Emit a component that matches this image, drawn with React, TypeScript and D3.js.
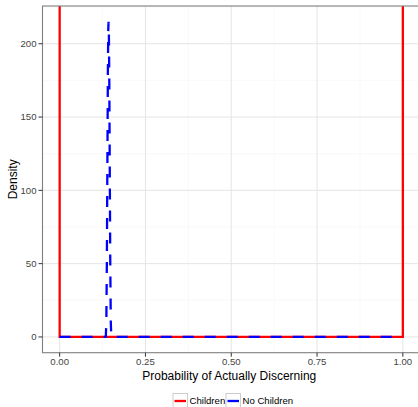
import React from 'react';
import * as d3 from 'd3';

// density curves
const groups = ['Children', 'No Children'];
const groupColors = ['#ff0000', '#0000ff'];

const childrenX = [0, 0, 1, 1];
const childrenY = [5000, 0, 0, 5000];

const noChildrenX = [0, 0.1345, 0.136, 0.1375, 0.139, 0.1405, 0.1417, 0.1425, 0.1433, 0.1445, 0.146, 0.1475, 0.149, 0.1505, 1];
const noChildrenY = [0, 0, 10, 50, 115, 180, 210, 215, 210, 180, 115, 50, 10, 0, 0];

const xTicks = [0, 0.25, 0.5, 0.75, 1];
const xMinor = [0.125, 0.375, 0.625, 0.875];
const yTicks = [0, 50, 100, 150, 200];
const yMinor = [25, 75, 125, 175, 225];

const W = 418;
const H = 407;
const panel = { left: 42.5, top: 6, right: 420, bottom: 352.7 };

const App = () => {
  const x = d3.scaleLinear([-0.05, 1.05], [panel.left, panel.right]);
  const y = d3.scaleLinear([-10.75, 225.75], [panel.bottom, panel.top]);
  const line = d3.line<[number, number]>((d) => x(d[0]), (d) => y(d[1]));

  const childrenPts = childrenX.map((v, i) => [v, childrenY[i]] as [number, number]);
  const noChildrenPts = noChildrenX.map((v, i) => [v, noChildrenY[i]] as [number, number]);

  const font = 'Liberation Sans, Arial, Helvetica, sans-serif';
  const legendY = 401;
  const legendItems = [
    { label: groups[0], x: 173, color: groupColors[0] },
    { label: groups[1], x: 226, color: groupColors[1] },
  ];

  return (
    <svg width={W} height={H} style={{ position: 'absolute', left: 0, top: 0, background: '#fff' }} fontFamily={font}>
      <defs>
        <clipPath id="panel-clip">
          <rect x={panel.left} y={panel.top} width={panel.right - panel.left} height={panel.bottom - panel.top} />
        </clipPath>
      </defs>
      <rect x={panel.left} y={panel.top} width={panel.right - panel.left} height={panel.bottom - panel.top} fill="#fff" />
      {/* grid */}
      <g strokeWidth={0.6}>
        {xMinor.map((t) => (
          <line key={'xm' + t} x1={x(t)} x2={x(t)} y1={panel.top} y2={panel.bottom} stroke="#f5f5f5" />
        ))}
        {yMinor.map((t) => (
          <line key={'ym' + t} y1={y(t)} y2={y(t)} x1={panel.left} x2={panel.right} stroke="#f5f5f5" />
        ))}
        {xTicks.map((t) => (
          <line key={'x' + t} x1={x(t)} x2={x(t)} y1={panel.top} y2={panel.bottom} stroke="#e5e5e5" strokeWidth={1} />
        ))}
        {yTicks.map((t) => (
          <line key={'y' + t} y1={y(t)} y2={y(t)} x1={panel.left} x2={panel.right} stroke="#e5e5e5" strokeWidth={1} />
        ))}
      </g>
      {/* density lines */}
      <g clipPath="url(#panel-clip)" fill="none" strokeWidth={2.3}>
        <path d={line(childrenPts) || ''} stroke={groupColors[0]} />
        <path d={line(noChildrenPts) || ''} stroke={groupColors[1]} strokeDasharray="11,11" />
      </g>
      {/* panel border */}
      <rect x={panel.left} y={panel.top} width={panel.right - panel.left} height={panel.bottom - panel.top} fill="none" stroke="#7f7f7f" strokeWidth={1.1} />
      {/* y axis */}
      {yTicks.map((t) => (
        <g key={'yl' + t}>
          <line x1={panel.left - 4} x2={panel.left} y1={y(t)} y2={y(t)} stroke="#333" strokeWidth={1} />
          <text x={panel.left - 6} y={y(t)} dy="0.35em" textAnchor="end" fontSize={9.6} fill="#444">{t}</text>
        </g>
      ))}
      {/* x axis */}
      {xTicks.map((t) => (
        <g key={'xl' + t}>
          <line x1={x(t)} x2={x(t)} y1={panel.bottom} y2={panel.bottom + 4} stroke="#333" strokeWidth={1} />
          <text x={x(t)} y={panel.bottom + 12.5} textAnchor="middle" fontSize={9.6} fill="#444">{d3.format('.2f')(t)}</text>
        </g>
      ))}
      <text x={(panel.left + panel.right) / 2 - 2} y={379.5} textAnchor="middle" fontSize={12} fill="#000">Probability of Actually Discerning</text>
      <text transform={`translate(17,${(panel.top + panel.bottom) / 2}) rotate(-90)`} textAnchor="middle" fontSize={12} fill="#000">Density</text>
      {/* legend */}
      {legendItems.map((d) => (
        <g key={d.label}>
          <rect x={d.x} y={legendY - 7.5} width={14.5} height={15} fill="#fff" stroke="#cccccc" strokeWidth={1} />
          <line x1={d.x + 1.5} x2={d.x + 13} y1={legendY} y2={legendY} stroke={d.color} strokeWidth={2.3} />
          <text x={d.x + 16.5} y={legendY} dy="0.35em" fontSize={9.6} fill="#000">{d.label}</text>
        </g>
      ))}
    </svg>
  );
};

export default App;
